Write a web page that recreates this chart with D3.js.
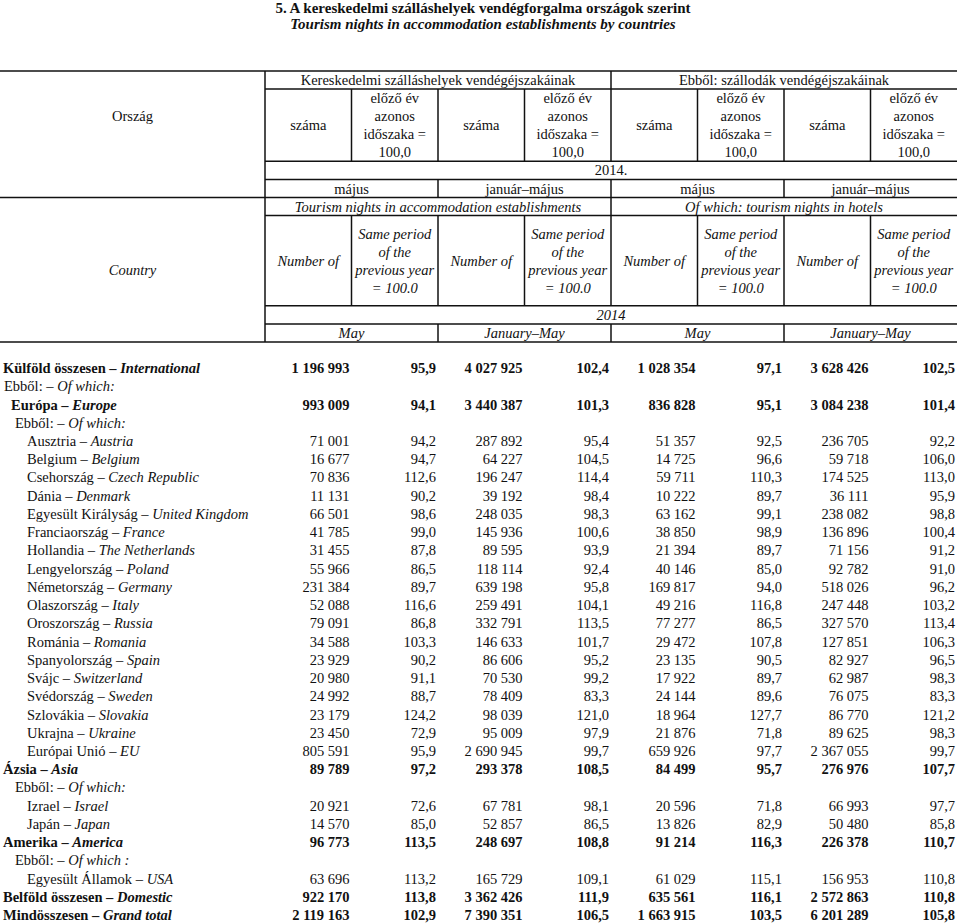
<!DOCTYPE html>
<html>
<head>
<meta charset="utf-8">
<script src="https://cdn.jsdelivr.net/npm/d3@7"></script>
<style>
  body { margin: 0; background: #fff; }
  svg text { font-family: "Liberation Serif", "Times New Roman", serif; font-size: 14.5px; fill: #111; }
  .it { font-style: italic; }
  .b { font-weight: bold; }
</style>
</head>
<body>
<svg id="chart" width="960" height="923"></svg>
<script>
// Title
const titleHu = '5. A kereskedelmi szálláshelyek vendégforgalma országok szerint'
const titleEn = 'Tourism nights in accommodation establishments by countries'

// Header texts
const stubHu = 'Ország'
const stubEn = 'Country'
const groupsHu = ['Kereskedelmi szálláshelyek vendégéjszakáinak', 'Ebből: szállodák vendégéjszakáinak']
const groupsEn = ['Tourism nights in accommodation establishments', 'Of which: tourism nights in hotels']
const measureHu = ['száma', ['előző év', 'azonos', 'időszaka =', '100,0']]
const measureEn = ['Number of', ['Same period', 'of the', 'previous year', '= 100.0']]
const yearHu = '2014.'
const yearEn = '2014'
const periodsHu = ['május', 'január–május', 'május', 'január–május']
const periodsEn = ['May', 'January–May', 'May', 'January–May']

// Row labels (Hungarian / English) and their kind
const labelsHu = ['Külföld összesen', 'Ebből:', 'Európa', 'Ebből:', 'Ausztria', 'Belgium', 'Csehország', 'Dánia',
  'Egyesült Királyság', 'Franciaország', 'Hollandia', 'Lengyelország', 'Németország', 'Olaszország', 'Oroszország',
  'Románia', 'Spanyolország', 'Svájc', 'Svédország', 'Szlovákia', 'Ukrajna', 'Európai Unió', 'Ázsia', 'Ebből:',
  'Izrael', 'Japán', 'Amerika', 'Ebből:', 'Egyesült Államok', 'Belföld összesen', 'Mindösszesen']
const labelsEn = ['International', 'Of which:', 'Europe', 'Of which:', 'Austria', 'Belgium', 'Czech Republic', 'Denmark',
  'United Kingdom', 'France', 'The Netherlands', 'Poland', 'Germany', 'Italy', 'Russia',
  'Romania', 'Spain', 'Switzerland', 'Sweden', 'Slovakia', 'Ukraine', 'EU', 'Asia', 'Of which:',
  'Israel', 'Japan', 'America', 'Of which :', 'USA', 'Domestic', 'Grand total']
const rowKinds = ['total', 'note0', 'region', 'note', 'country', 'country', 'country', 'country',
  'country', 'country', 'country', 'country', 'country', 'country', 'country',
  'country', 'country', 'country', 'country', 'country', 'country', 'country', 'total', 'note',
  'country', 'country', 'total', 'note', 'country', 'total', 'total']

// Values: all accommodation establishments
const mayNights = [1196993, null, 993009, null, 71001, 16677, 70836, 11131, 66501, 41785, 31455, 55966, 231384, 52088, 79091,
  34588, 23929, 20980, 24992, 23179, 23450, 805591, 89789, null, 20921, 14570, 96773, null, 63696, 922170, 2119163]
const mayIndex = [95.9, null, 94.1, null, 94.2, 94.7, 112.6, 90.2, 98.6, 99.0, 87.8, 86.5, 89.7, 116.6, 86.8,
  103.3, 90.2, 91.1, 88.7, 124.2, 72.9, 95.9, 97.2, null, 72.6, 85.0, 113.5, null, 113.2, 113.8, 102.9]
const janMayNights = [4027925, null, 3440387, null, 287892, 64227, 196247, 39192, 248035, 145936, 89595, 118114, 639198, 259491, 332791,
  146633, 86606, 70530, 78409, 98039, 95009, 2690945, 293378, null, 67781, 52857, 248697, null, 165729, 3362426, 7390351]
const janMayIndex = [102.4, null, 101.3, null, 95.4, 104.5, 114.4, 98.4, 98.3, 100.6, 93.9, 92.4, 95.8, 104.1, 113.5,
  101.7, 95.2, 99.2, 83.3, 121.0, 97.9, 99.7, 108.5, null, 98.1, 86.5, 108.8, null, 109.1, 111.9, 106.5]

// Values: of which hotels
const hotelMayNights = [1028354, null, 836828, null, 51357, 14725, 59711, 10222, 63162, 38850, 21394, 40146, 169817, 49216, 77277,
  29472, 23135, 17922, 24144, 18964, 21876, 659926, 84499, null, 20596, 13826, 91214, null, 61029, 635561, 1663915]
const hotelMayIndex = [97.1, null, 95.1, null, 92.5, 96.6, 110.3, 89.7, 99.1, 98.9, 89.7, 85.0, 94.0, 116.8, 86.5,
  107.8, 90.5, 89.7, 89.6, 127.7, 71.8, 97.7, 95.7, null, 71.8, 82.9, 116.3, null, 115.1, 116.1, 103.5]
const hotelJanMayNights = [3628426, null, 3084238, null, 236705, 59718, 174525, 36111, 238082, 136896, 71156, 92782, 518026, 247448, 327570,
  127851, 82927, 62987, 76075, 86770, 89625, 2367055, 276976, null, 66993, 50480, 226378, null, 156953, 2572863, 6201289]
const hotelJanMayIndex = [102.5, null, 101.4, null, 92.2, 106.0, 113.0, 95.9, 98.8, 100.4, 91.2, 91.0, 96.2, 103.2, 113.4,
  106.3, 96.5, 98.3, 83.3, 121.2, 98.3, 99.7, 107.7, null, 97.7, 85.8, 110.7, null, 110.8, 110.8, 105.8]

const seriesList = [mayNights, mayIndex, janMayNights, janMayIndex, hotelMayNights, hotelMayIndex, hotelJanMayNights, hotelJanMayIndex]

// Number formats: space as thousands separator, comma as decimal mark
const huLocale = d3.formatLocale({ decimal: ',', thousands: ' ', grouping: [3], currency: ['', ''] })
const fmtCount = huLocale.format(',d')
const fmtIndex = huLocale.format('.1f')

const svg = d3.select('#chart')
const stubRight = 265
const tableRight = 957

// Column edges of the 8 value columns
const xCol = d3.scaleLinear().domain([0, 8]).range([stubRight, tableRight])
// Header rows in 18px units
const yHead = d3.scaleLinear().domain([0, 15]).range([71, 342])
// Body rows
const yRow = d3.scaleLinear().domain([0, labelsHu.length - 1]).range([368, 915])

const indent = { total: 3, note0: 4, region: 11, note: 15, country: 27 }

/**
 * Writes a block of centered lines, vertically centered on cy.
 */
function centeredLines (g, lines, cx, cy, cls) {
  const lh = 18.1
  const t = g.append('text')
    .attr('text-anchor', 'middle')
    .attr('class', cls || null)
  lines.forEach((line, i) => {
    t.append('tspan')
      .attr('x', cx)
      .attr('y', cy + (i - (lines.length - 1) / 2) * lh)
      .attr('dy', '0.35em')
      .text(line)
  })
}

// Title
svg.append('text').attr('class', 'b').attr('x', 483).attr('y', 13)
  .attr('text-anchor', 'middle').style('font-size', '15px').text(titleHu)
svg.append('text').attr('class', 'b it').attr('x', 483).attr('y', 28.5)
  .attr('text-anchor', 'middle').style('font-size', '15px').text(titleEn)

// Header
const head = svg.append('g').attr('class', 'header')
const mid = (a, b) => (a + b) / 2

centeredLines(head, [stubHu], stubRight / 2, mid(yHead(0), yHead(7)) - 18)
centeredLines(head, [stubEn], stubRight / 2, mid(yHead(7), yHead(15)), 'it')

groupsHu.forEach((d, i) => centeredLines(head, [d], mid(xCol(i * 4), xCol(i * 4 + 4)), mid(yHead(0), yHead(1))))
groupsEn.forEach((d, i) => centeredLines(head, [d], mid(xCol(i * 4), xCol(i * 4 + 4)), mid(yHead(7), yHead(8)), 'it'))

d3.range(8).forEach(c => {
  const m = measureHu[c % 2]
  const e = measureEn[c % 2]
  centeredLines(head, Array.isArray(m) ? m : [m], mid(xCol(c), xCol(c + 1)), mid(yHead(1), yHead(5)))
  centeredLines(head, Array.isArray(e) ? e : [e], mid(xCol(c), xCol(c + 1)), mid(yHead(8), yHead(13)), 'it')
})

centeredLines(head, [yearHu], mid(xCol(0), xCol(8)), mid(yHead(5), yHead(6)))
centeredLines(head, [yearEn], mid(xCol(0), xCol(8)), mid(yHead(13), yHead(14)), 'it')

periodsHu.forEach((d, i) => centeredLines(head, [d], mid(xCol(i * 2), xCol(i * 2 + 2)), mid(yHead(6), yHead(7))))
periodsEn.forEach((d, i) => centeredLines(head, [d], mid(xCol(i * 2), xCol(i * 2 + 2)), mid(yHead(14), yHead(15)), 'it'))

// Header rules: [row unit, x from, x to]
const hRules = [
  [0, 0, tableRight], [1, stubRight, tableRight], [5, stubRight, tableRight], [6, stubRight, tableRight],
  [7, 0, tableRight], [8, stubRight, tableRight], [13, stubRight, tableRight], [14, stubRight, tableRight],
  [15, 0, tableRight]
]
// [column edge, from unit, to unit]
const vRules = [[0, 0, 15], [4, 0, 1]]
d3.range(1, 8).forEach(c => { vRules.push([c, 1, 5]); vRules.push([c, 8, 13]) })
;[2, 4, 6].forEach(c => { vRules.push([c, 6, 7]); vRules.push([c, 14, 15]) })
vRules.push([4, 7, 8])

head.selectAll('line.h').data(hRules).enter().append('line')
  .attr('class', 'h')
  .attr('x1', d => d[1]).attr('x2', d => d[2])
  .attr('y1', d => yHead(d[0])).attr('y2', d => yHead(d[0]))
  .attr('stroke', '#111').attr('stroke-width', 1.5)
head.selectAll('line.v').data(vRules).enter().append('line')
  .attr('class', 'v')
  .attr('x1', d => xCol(d[0])).attr('x2', d => xCol(d[0]))
  .attr('y1', d => yHead(d[1])).attr('y2', d => yHead(d[2]))
  .attr('stroke', '#111').attr('stroke-width', 1.5)

// Body
const body = svg.append('g').attr('class', 'body')
const rows = body.selectAll('g.row')
  .data(labelsHu.map((hu, i) => ({ i, hu, en: labelsEn[i], kind: rowKinds[i] })))
  .enter().append('g')
  .attr('class', d => (d.kind === 'total' || d.kind === 'region') ? 'row b' : 'row')
  .attr('transform', d => 'translate(0,' + yRow(d.i) + ')')

const label = rows.append('text')
  .attr('x', d => indent[d.kind])
  .attr('dy', '0.35em')
label.append('tspan').text(d => d.hu + ' – ')
label.append('tspan').attr('class', 'it').text(d => d.en)

seriesList.forEach((series, c) => {
  rows.filter(d => series[d.i] !== null)
    .append('text')
    .attr('x', xCol(c + 1) - 2)
    .attr('dy', '0.35em')
    .attr('text-anchor', 'end')
    .text(d => c % 2 === 0 ? fmtCount(series[d.i]) : fmtIndex(series[d.i]))
})
</script>
</body>
</html>
